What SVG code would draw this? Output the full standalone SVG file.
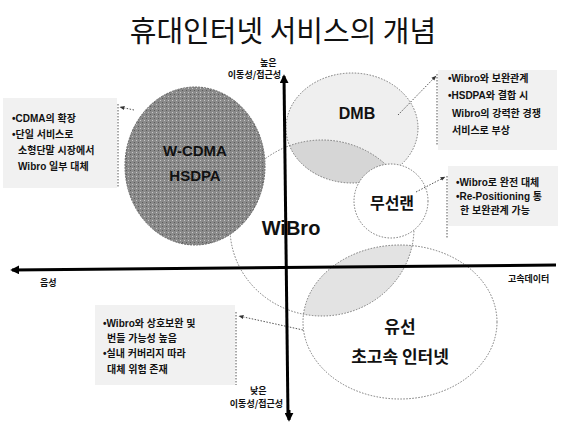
<svg xmlns="http://www.w3.org/2000/svg" width="561" height="426" viewBox="0 0 561 426">
<defs>
<style>
.title{font-family:"Noto Sans CJK KR","Noto Sans",sans-serif;font-size:29px;fill:#111;text-anchor:middle}
.ax{font-family:"Noto Sans CJK KR",sans-serif;font-size:9px;font-weight:bold;fill:#111}
.note{font-family:"Liberation Sans","Noto Sans CJK KR",sans-serif;font-size:10px;font-weight:bold;fill:#111}
.lbl{font-family:"Liberation Sans","Noto Sans CJK KR",sans-serif;font-weight:bold;fill:#111;text-anchor:middle}
.kr{font-family:"Noto Sans CJK KR",sans-serif;font-weight:bold;fill:#111;text-anchor:middle}
.dot{fill:none;stroke:#777;stroke-width:1;stroke-dasharray:1.5 1.5}
.conn{fill:none;stroke:#555;stroke-width:1;stroke-dasharray:1.5 1.5}
.box{fill:#f1f1f1}
.axis{stroke:#000;stroke-width:3;fill:none}
</style>
<marker id="ah" viewBox="0 0 10 10" refX="9" refY="5" markerWidth="5" markerHeight="5" orient="auto">
<path d="M0,1 L10,5 L0,9 z" fill="#333"/>
</marker>
<marker id="axh" viewBox="0 0 10 10" refX="8" refY="5" markerWidth="3" markerHeight="3" orient="auto">
<path d="M0,0 L10,5 L0,10 z" fill="#000"/>
</marker>
<clipPath id="clipDMB"><ellipse cx="352" cy="128" rx="66" ry="55"/></clipPath>
<clipPath id="clipWired"><ellipse cx="400" cy="322" rx="97" ry="77"/></clipPath>
<pattern id="stip" width="4" height="4" patternUnits="userSpaceOnUse">
<rect width="4" height="4" fill="#8a8a8a"/>
<rect x="0" y="0" width="1" height="1" fill="#c8c8c8"/>
<rect x="2" y="2" width="1" height="1" fill="#5a5a5a"/>
</pattern>
</defs>

<rect width="561" height="426" fill="#fff"/>

<text class="title" x="283" y="42">휴대인터넷 서비스의 개념</text>

<g id="boxes">
<rect class="box" x="3" y="98" width="114" height="90"/>
<rect class="box" x="438" y="70" width="119" height="80"/>
<rect class="box" x="448" y="166" width="110" height="60"/>
<rect class="box" x="95" y="305" width="140" height="80"/>
</g>

<g id="wibro-fill">
<ellipse cx="322" cy="228" rx="92" ry="88" fill="#fff"/>
</g>
<g id="dmb">
<ellipse cx="352" cy="128" rx="66" ry="55" fill="#efefef"/>
</g>
<g id="wired">
<ellipse cx="400" cy="322" rx="97" ry="77" fill="#fff"/>
</g>
<g id="overlaps">
<ellipse cx="322" cy="228" rx="92" ry="88" fill="#d6d6d6" clip-path="url(#clipDMB)"/>
<ellipse cx="322" cy="228" rx="92" ry="88" fill="#e3e3e3" clip-path="url(#clipWired)"/>
</g>
<g id="outlines">
<ellipse class="dot" cx="322" cy="228" rx="92" ry="88"/>
<ellipse class="dot" cx="352" cy="128" rx="66" ry="55"/>
<ellipse class="dot" cx="400" cy="322" rx="97" ry="77"/>
</g>

<g id="wcdma">
<ellipse cx="195" cy="166" rx="70" ry="79" fill="url(#stip)"/>
<ellipse cx="195" cy="166" rx="70" ry="79" fill="none" stroke="#666" stroke-width="1" stroke-dasharray="2 1"/>
<text class="lbl" x="195" y="156" font-size="15">W-CDMA</text>
<text class="lbl" x="195" y="181" font-size="15">HSDPA</text>
</g>

<g id="wlan">
<circle cx="391" cy="201" r="37" fill="#fff"/>
<circle class="dot" cx="391" cy="201" r="37"/>
<text class="kr" x="392" y="209" font-size="16">무선랜</text>
</g>

<g id="connectors">
<path class="conn" d="M134,110 L120,107" marker-end="url(#ah)"/>
<path class="conn" d="M118,104 L118,188"/>
<path class="conn" d="M398,115 L436,76" marker-end="url(#ah)"/>
<path class="conn" d="M437,74 L437,146"/>
<path class="conn" d="M416,192 L445,177" marker-end="url(#ah)"/>
<path class="conn" d="M447,176 L447,238"/>
<path class="conn" d="M303,330 L239,316" marker-end="url(#ah)"/>
<path class="conn" d="M236,312 L236,385"/>
</g>

<g id="axes">
<path class="axis" d="M556,265 L12,270" marker-end="url(#axh)"/>
<path class="axis" d="M288,416 L284,76" marker-end="url(#axh)"/>
<path d="M289,410 L289,420" stroke="#000" stroke-width="3" marker-end="url(#axh)"/>
<text class="ax" x="260" y="66">높은</text>
<text class="ax" x="281" y="78" text-anchor="end">이동성/접근성</text>
<text class="ax" x="40" y="286">음성</text>
<text class="ax" x="508" y="282">고속데이터</text>
<text class="ax" x="250" y="394">낮은</text>
<text class="ax" x="283" y="407" text-anchor="end">이동성/접근성</text>
</g>

<g id="wibro-label">
<text class="lbl" x="291" y="235" font-size="20">WiBro</text>
</g>
<g id="dmb-label">
<text class="lbl" x="357" y="119" font-size="16">DMB</text>
</g>
<g id="wired-label">
<text class="kr" x="400" y="333" font-size="17">유선</text>
<text class="kr" x="400" y="363" font-size="17">초고속 인터넷</text>
</g>

<g id="note1">
<text class="note" x="12" y="122">•CDMA의 확장</text>
<text class="note" x="12" y="138">•단일 서비스로</text>
<text class="note" x="18" y="154">소형단말 시장에서</text>
<text class="note" x="18" y="170">Wibro 일부 대체</text>
</g>
<g id="note2">
<text class="note" x="448" y="82">•Wibro와 보완관계</text>
<text class="note" x="448" y="99">•HSDPA와 결합 시</text>
<text class="note" x="452" y="117">Wibro의 강력한 경쟁</text>
<text class="note" x="452" y="134">서비스로 부상</text>
</g>
<g id="note3">
<text class="note" x="456" y="186">•Wibro로 완전 대체</text>
<text class="note" x="456" y="200">•Re-Positioning 통</text>
<text class="note" x="460" y="214">한 보완관계 가능</text>
</g>
<g id="note4">
<text class="note" x="103" y="327">•Wibro와 상호보완 및</text>
<text class="note" x="107" y="342">번들 가능성 높음</text>
<text class="note" x="103" y="357">•실내 커버리지 따라</text>
<text class="note" x="107" y="373">대체 위험 존재</text>
</g>
</svg>
